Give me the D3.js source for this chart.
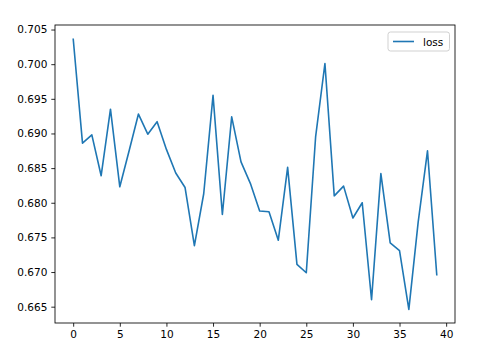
<!DOCTYPE html>
<html>
<head>
<meta charset="utf-8">
<script src="https://cdn.jsdelivr.net/npm/d3@7"></script>
<style>
  body { margin: 0; background: #fff; }
  text { font-family: "DejaVu Sans", sans-serif; }
</style>
</head>
<body>
<svg id="chart" width="484" height="352"></svg>
<script>
// loss per epoch
var epochs = d3.range(40);
var loss = [0.7037, 0.6886, 0.6898, 0.6839, 0.6935, 0.6823, 0.6875, 0.6928, 0.6899, 0.6917,
            0.6877, 0.6843, 0.6822, 0.6738, 0.6813, 0.6955, 0.6783, 0.6924, 0.6859, 0.6828,
            0.6788, 0.6787, 0.6746, 0.6851, 0.6711, 0.6699, 0.6895, 0.7001, 0.6810, 0.6824,
            0.6778, 0.6800, 0.6660, 0.6842, 0.6742, 0.6731, 0.6646, 0.6772, 0.6875, 0.6695];
var xTicks = [0, 5, 10, 15, 20, 25, 30, 35, 40];
var yTicks = [0.665, 0.670, 0.675, 0.680, 0.685, 0.690, 0.695, 0.700, 0.705];

var margin = {top: 25, right: 29, bottom: 29, left: 55},
    width = 484 - margin.left - margin.right,
    height = 352 - margin.top - margin.bottom;

var svg = d3.select("#chart");
var g = svg.append("g").attr("transform", "translate(" + margin.left + "," + margin.top + ")");

// matplotlib style 5% margins
var xPad = (d3.max(epochs) - d3.min(epochs)) * 0.05;
var yPad = (d3.max(loss) - d3.min(loss)) * 0.05;
var x = d3.scaleLinear()
    .domain([d3.min(epochs) - xPad, d3.max(epochs) + xPad])
    .range([0, width]);
var y = d3.scaleLinear()
    .domain([d3.min(loss) - yPad, d3.max(loss) + yPad])
    .range([height, 0]);

var xAxis = g.append("g")
    .attr("transform", "translate(0," + height + ")")
    .call(d3.axisBottom(x).tickValues(xTicks).tickSize(3.7).tickPadding(4).tickFormat(d3.format("d")));
var yAxis = g.append("g")
    .call(d3.axisLeft(y).tickValues(yTicks).tickSize(3.7).tickPadding(4).tickFormat(d3.format(".3f")));

[xAxis, yAxis].forEach(function (a) {
    a.select(".domain").remove();
    a.selectAll("line").attr("stroke", "#000").attr("stroke-width", 0.85);
    a.selectAll("text").attr("fill", "#000").style("font-size", "10.5px")
        .style("font-family", "'DejaVu Sans', sans-serif");
});

// frame
g.append("rect")
    .attr("width", width)
    .attr("height", height)
    .attr("fill", "none")
    .attr("stroke", "#000")
    .attr("stroke-width", 0.85);

var line = d3.line()
    .x(function (d, i) { return x(epochs[i]); })
    .y(function (d) { return y(d); });

g.append("path")
    .datum(loss)
    .attr("d", line)
    .attr("fill", "none")
    .attr("stroke", "#1f77b4")
    .attr("stroke-width", 1.6)
    .attr("stroke-linejoin", "round");

// legend
var lg = g.append("g").attr("transform", "translate(" + (width - 67) + ",7)");
lg.append("rect")
    .attr("width", 61.5)
    .attr("height", 19)
    .attr("rx", 2.5)
    .attr("fill", "#fff")
    .attr("fill-opacity", 0.8)
    .attr("stroke", "#ccc")
    .attr("stroke-width", 0.9);
lg.append("line")
    .attr("x1", 5).attr("x2", 26)
    .attr("y1", 9.5).attr("y2", 9.5)
    .attr("stroke", "#1f77b4")
    .attr("stroke-width", 1.6);
lg.append("text")
    .attr("x", 35)
    .attr("y", 13.5)
    .style("font-size", "10.5px")
    .text("loss");
</script>
</body>
</html>
